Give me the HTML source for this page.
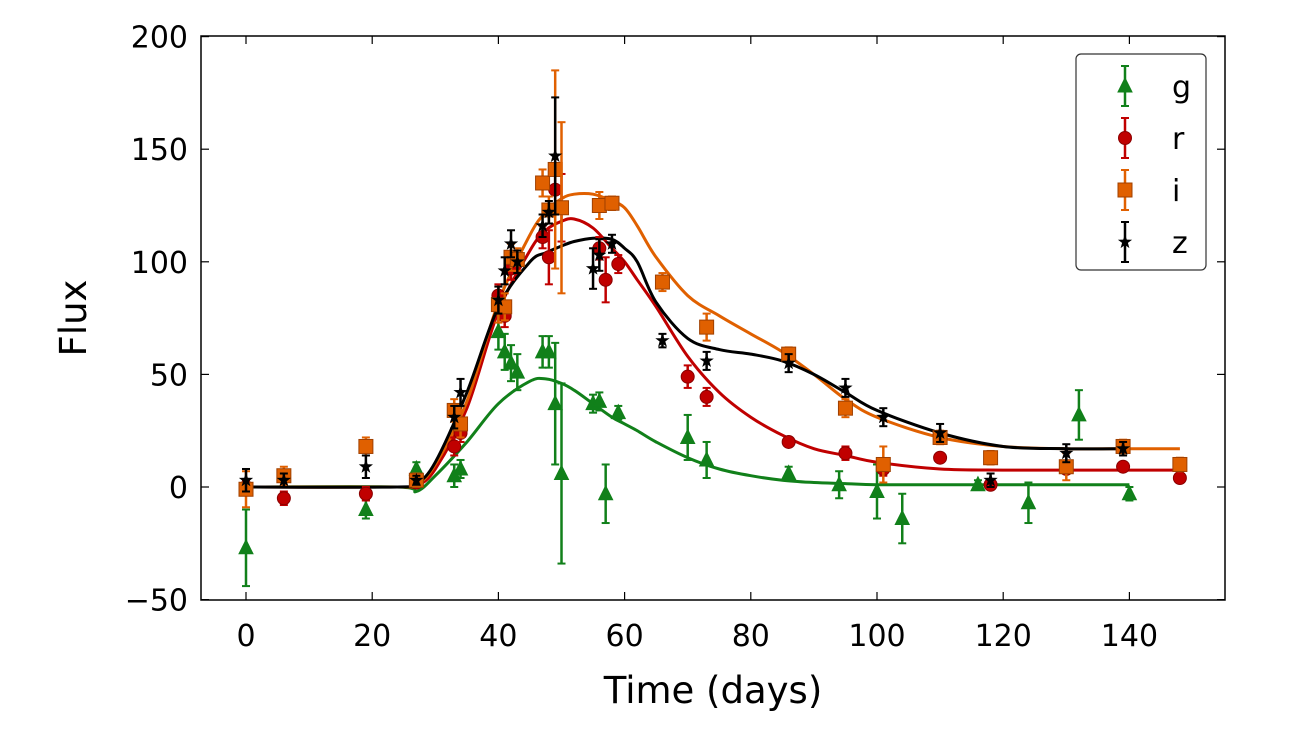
<!DOCTYPE html>
<html><head><meta charset="utf-8"><style>
body{margin:0;background:#fff}
svg text{font-family:"DejaVu Sans","Liberation Sans",sans-serif;fill:#000}
</style></head><body>
<svg id="chart" width="1296" height="733"></svg>
<script>
const gT=[0,19,27,33,34,40,41,42,43,47,48,49,50,55,56,57,59,70,73,86,94,100,104,116,124,132,140];
const gV=[-27,-10,8,5,8,69,60,55,51,60,60,37,6,37,38,-3,33,22,12,6,1,-2,-14,1,-7,32,-3];
const gE=[17,4,3,5,4,8,8,8,8,7,7,27,40,4,4,13,3,10,8,3,6,12,11,2,9,11,3];
const rT=[0,6,19,27,33,34,40,41,42,47,48,49,50,56,57,59,70,73,86,95,101,110,118,130,139,148];
const rV=[0,-5,-3,2,18,24,85,76,97,111,102,132,124,106,92,99,49,40,20,15,8,13,1,8,9,4];
const rE=[3,3,3,2,4,4,5,5,5,5,12,8,15,5,10,4,5,4,2,3,3,2,2,2,2,2];
const iT=[0,6,19,27,33,34,40,41,42,43,47,48,49,50,56,58,66,73,86,95,101,110,118,130,139,148];
const iV=[-1,5,18,3,34,28,81,80,102,101,135,123,141,124,125,126,91,71,59,35,10,22,13,9,18,10];
const iE=[8,4,4,3,5,6,8,6,6,5,6,6,44,38,6,3,4,6,3,4,8,3,3,6,3,3];
const zT=[0,6,19,27,33,34,40,41,42,43,47,48,49,55,56,58,66,73,86,95,101,110,118,130,139];
const zV=[3,3,9,3,31,42,83,96,108,100,116,122,147,97,103,108,65,56,55,44,31,24,3,15,17];
const zE=[5,3,5,2,5,6,6,6,6,5,5,5,26,9,7,4,3,4,4,4,4,4,3,4,3];
const fitT=[0,24,27,30,35,40,45,47.5,50,52,55,58,60,62,65,70,75,80,85,90,95,100,110,120,130,140,148];
const gFit=[0,0,-2,5,20,37,47,48,46,43,37,31,28,25,20,13,8,5,3,2,1.5,1,1,1,1,1,null];
const rFit=[0,0,0.5,8,35,78,105,114,118,119,115,106,100,92,80,58,42,31,23,17,14,11,8,7.5,7.5,7.5,7.5];
const iFit=[0,0,1,10,38,82,112,122,128,130,130,127,124,116,102,85,76,68,60,50,39,31,22,18,17,17,17];
const zFit=[0,0,1.5,11,42,80,100,104,107,109,110.5,110,106,100,82,66,61,59,56,50,42,34,24,18,17,17,null];
const xTicks=[0,20,40,60,80,100,120,140];
const yTicks=[-50,0,50,100,150,200];

const NS="http://www.w3.org/2000/svg";
const svg=document.getElementById('chart');
const X0=201,X1=1225,Y0=36,Y1=600;
const xs=t=>246+6.31*t;
const ys=v=>487-2.252*v;
function mk(tag,attrs,parent){const e=document.createElementNS(NS,tag);for(const k in attrs)e.setAttribute(k,attrs[k]);(parent||svg).appendChild(e);return e;}

const frame=mk('rect',{x:X0,y:Y0,width:X1-X0,height:Y1-Y0,fill:'none',stroke:'#000','stroke-width':1.5});


xTicks.forEach(t=>{
  const x=xs(t);
  mk('line',{x1:x,x2:x,y1:Y1,y2:Y1-8,stroke:'#000','stroke-width':1.2});
  mk('line',{x1:x,x2:x,y1:Y0,y2:Y0+8,stroke:'#000','stroke-width':1.2});
  const tx=mk('text',{x:x,y:646,'font-size':30,'text-anchor':'middle'});tx.textContent=t;
  
  
});
yTicks.forEach(v=>{
  const y=ys(v);
  mk('line',{x1:X0,x2:X0+8,y1:y,y2:y,stroke:'#000','stroke-width':1.2});
  mk('line',{x1:X1,x2:X1-8,y1:y,y2:y,stroke:'#000','stroke-width':1.2});
  const tx=mk('text',{x:188,y:y+11,'font-size':30,'text-anchor':'end'});tx.textContent=v<0?'\u2212'+(-v):v;
  
  
});
const xt=mk('text',{x:713,y:703,'font-size':37,'text-anchor':'middle'});xt.textContent='Time (days)';


const yt=mk('text',{x:86,y:318,'font-size':37,'text-anchor':'middle',transform:'rotate(-90 86 318)'});yt.textContent='Flux';



function marker(shape,x,y,col,g){
  if(shape==='tri') return mk('polygon',{points:`${x},${y-8} ${x-7},${y+6} ${x+7},${y+6}`,fill:col,stroke:col},g);
  if(shape==='circ') return mk('circle',{cx:x,cy:y,r:6.5,fill:col,stroke:'#8a0000'},g);
  if(shape==='sq') return mk('rect',{x:x-7,y:y-7,width:14,height:14,fill:col,stroke:'#a04000'},g);
  let p=[];for(let k=0;k<10;k++){const r=k%2?3:7.5,a=-Math.PI/2+k*Math.PI/5;p.push((x+r*Math.cos(a)).toFixed(1)+','+(y+r*Math.sin(a)).toFixed(1));}
  return mk('polygon',{points:p.join(' '),fill:col},g);
}
function smooth(pts){
  let d='M'+pts[0][0].toFixed(1)+','+pts[0][1].toFixed(1);
  for(let i=0;i<pts.length-1;i++){
    const p0=pts[i-1]||pts[i],p1=pts[i],p2=pts[i+1],p3=pts[i+2]||p2;
    const c1=[p1[0]+(p2[0]-p0[0])/6,p1[1]+(p2[1]-p0[1])/6];
    const c2=[p2[0]-(p3[0]-p1[0])/6,p2[1]-(p3[1]-p1[1])/6];
    d+='C'+c1.map(v=>v.toFixed(1)).join(',')+' '+c2.map(v=>v.toFixed(1)).join(',')+' '+p2.map(v=>v.toFixed(1)).join(',');
  }
  return d;
}
const series=[
 {n:'g',T:gT,V:gV,E:gE,F:gFit,c:'#11801a',s:'tri'},
 {n:'r',T:rT,V:rV,E:rE,F:rFit,c:'#c00000',s:'circ'},
 {n:'i',T:iT,V:iV,E:iE,F:iFit,c:'#e06000',s:'sq'},
 {n:'z',T:zT,V:zV,E:zE,F:zFit,c:'#000000',s:'star'}];
series.forEach(S=>{
  const pts=[];fitT.forEach((t,k)=>{if(S.F[k]!=null)pts.push([xs(t),ys(S.F[k])]);});
  const p=mk('path',{d:smooth(pts),fill:'none',stroke:S.c,'stroke-width':3,'stroke-linejoin':'round'});
  
  
});
series.forEach(S=>{
  const g=mk('g',{});
  
  
  S.T.forEach((t,k)=>{
    const x=xs(t),y=ys(S.V[k]),e=S.E[k]*2.252;
    mk('line',{x1:x,x2:x,y1:y-e,y2:y+e,stroke:S.c,'stroke-width':2.5},g);
    mk('line',{x1:x-4,x2:x+4,y1:y-e,y2:y-e,stroke:S.c,'stroke-width':2},g);
    mk('line',{x1:x-4,x2:x+4,y1:y+e,y2:y+e,stroke:S.c,'stroke-width':2},g);
    const m=marker(S.s,x,y,S.c,g);
    
    
  });
});
const lg=mk('g',{});


mk('rect',{x:1076,y:54,width:130,height:216,rx:5,fill:'#fff',stroke:'#333','stroke-width':1.2},lg);
series.forEach((S,k)=>{
  const y=86+k*52,x=1125;
  mk('line',{x1:x,x2:x,y1:y-20,y2:y+20,stroke:S.c,'stroke-width':2.5},lg);
  mk('line',{x1:x-4,x2:x+4,y1:y-20,y2:y-20,stroke:S.c,'stroke-width':2},lg);
  mk('line',{x1:x-4,x2:x+4,y1:y+20,y2:y+20,stroke:S.c,'stroke-width':2},lg);
  marker(S.s,x,y,S.c,lg);
  const t=mk('text',{x:1172,y:y+11,'font-size':30},lg);t.textContent=S.n;
  
  
});
</script>
</body></html>
